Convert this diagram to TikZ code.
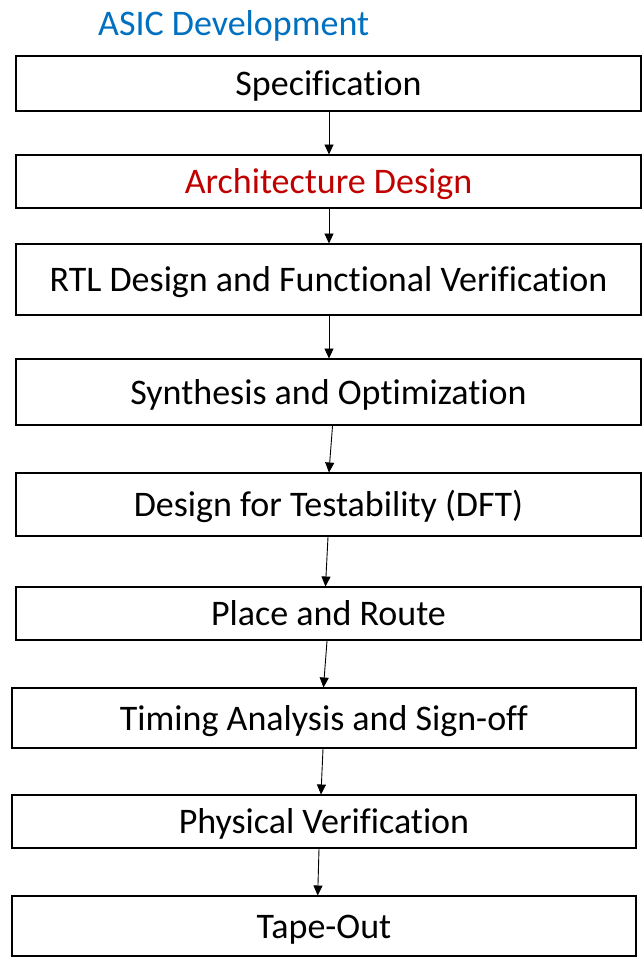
\documentclass[tikz,border=0pt]{standalone}
\usepackage{fontspec}
\setmainfont{Carlito}[Ligatures={NoCommon}]
\usetikzlibrary{arrows.meta}
\definecolor{titleblue}{HTML}{0070C0}
\definecolor{archred}{HTML}{C00000}
\tikzset{
  stepbox/.style={draw=black, line width=2pt, inner sep=0pt, text height=30pt, text depth=6pt, font=\fontsize{36}{43}\selectfont},
  flow/.style={draw=black, line width=0.9pt, -{Triangle[length=10pt,width=9pt]}, shorten >=-0.5pt}
}
\begin{document}
\begin{tikzpicture}[x=1pt,y=-1pt]
\useasboundingbox (0,0) rectangle (643,967);
\fill[white] (0,0) rectangle (643,967);
\node[anchor=base west, text=titleblue, font=\fontsize{36}{43}\selectfont, inner sep=0pt] (title) at (98,35) {ASIC Development};
\node[stepbox, minimum width=625pt, minimum height=55pt] (b1) at (328.5,83) {Specification};
\node[stepbox, minimum width=625pt, minimum height=53pt, text=archred] (b2) at (328.5,181.5) {Architecture Design};
\node[stepbox, minimum width=625pt, minimum height=71pt] (b3) at (328.5,279.5) {RTL Design and Functional Verification};
\node[stepbox, minimum width=625pt, minimum height=66pt] (b4) at (328.5,392) {Synthesis and Optimization};
\node[stepbox, minimum width=625pt, minimum height=63pt] (b5) at (328.5,504.5) {Design for Testability (DFT)};
\node[stepbox, minimum width=625pt, minimum height=53pt] (b6) at (328.5,613.5) {Place and Route};
\node[stepbox, minimum width=624pt, minimum height=60pt] (b7) at (324,718) {Timing Analysis and Sign-off};
\node[stepbox, minimum width=624pt, minimum height=53pt] (b8) at (324,821.5) {Physical Verification};
\node[stepbox, minimum width=624pt, minimum height=60pt] (b9) at (324,926) {Tape-Out};
\draw[flow] (b1.south -| 329,0) -- (b2.north -| 329,0);
\draw[flow] (b2.south -| 329,0) -- (b3.north -| 329,0);
\draw[flow] (b3.south -| 329,0) -- (b4.north -| 329,0);
\draw[flow] ([xshift=4pt]b4.south) -- ([xshift=0.5pt]b5.north);
\draw[flow] ([xshift=-0.5pt]b5.south) -- ([xshift=-3pt]b6.north);
\draw[flow] ([xshift=-1.5pt]b6.south) -- ([xshift=-0.5pt]b7.north);
\draw[flow] ([xshift=-1pt]b7.south) -- ([xshift=-3pt]b8.north);
\draw[flow] ([xshift=-5pt]b8.south) -- ([xshift=-6.3pt]b9.north);
\end{tikzpicture}
\end{document}
